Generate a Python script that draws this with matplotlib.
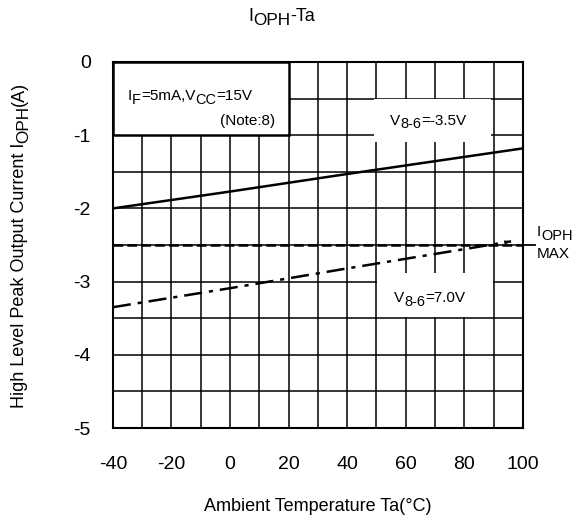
import matplotlib.pyplot as plt
from matplotlib.patches import Rectangle
from matplotlib.transforms import offset_copy

# readings from the datasheet curve
ta_35 = [-40, 0, 40, 100]
ioph_35 = [-2.0, -1.77, -1.53, -1.18]

ta_70 = [-40, 0, 40, 84, 96]
ioph_70 = [-3.35, -3.09, -2.82, -2.53, -2.45]

IOPH_MAX = -2.5

xticks = [-40, -20, 0, 20, 40, 60, 80, 100]
yticks = [0, -1, -2, -3, -4, -5]

plt.rcParams['font.family'] = ['Liberation Sans', 'DejaVu Sans']
plt.rcParams['axes.unicode_minus'] = False
plt.rcParams['lines.scale_dashes'] = False

SUB = 0.95


def rich(fig, x, y, parts, size, transform, ha='left', rotation=0):
    """draw text made of (string, is_subscript) pieces one after another"""
    renderer = fig.canvas.get_renderer()
    texts = []
    pos = 0
    for s, sub in parts:
        fs = size * SUB if sub else size
        dy = -size * 0.25 if sub else 0
        texts.append((s, fs, pos, dy))
        t = fig.text(0, 0, s, fontsize=fs)
        pos += t.get_window_extent(renderer).width * 72 / fig.dpi
        t.remove()
    shift = {'left': 0, 'center': -pos / 2, 'right': -pos}[ha]
    for s, fs, p, dy in texts:
        if rotation == 90:
            ox, oy = -dy, p + shift
        else:
            ox, oy = p + shift, dy
        tr = offset_copy(transform, fig=fig, x=ox, y=oy, units='points')
        fig.text(x, y, s, fontsize=fs, transform=tr, ha='left', va='center_baseline',
                 rotation=rotation, rotation_mode='anchor', zorder=5)


fig = plt.figure(figsize=(5.79, 5.21), dpi=100)
ax = fig.add_axes([0.195, 0.1785, 0.708, 0.7025])

ax.set_xlim(-40, 100)
ax.set_ylim(-5, 0)
ax.set_xticks(xticks)
ax.set_yticks(yticks)
ax.set_xticks(range(-40, 101, 10), minor=True)
ax.set_yticks([v / 2 for v in range(-10, 1)], minor=True)
ax.tick_params(which='both', length=0, labelsize=14)
ax.tick_params(axis='y', pad=16)
ax.tick_params(axis='x', pad=20)
ax.grid(which='both', color='black', lw=1.1)
ax.set_axisbelow(True)
for sp in ax.spines.values():
    sp.set_linewidth(1.5)

# curves
ax.plot(ta_35, ioph_35, color='black', lw=1.8, zorder=4)
l70, = ax.plot(ta_70, ioph_70, color='black', lw=1.8, zorder=4)
l70.set_dashes([13, 5, 3, 5])
ax.annotate('', xy=(ta_70[-1], ioph_70[-1]), xytext=(ta_70[-2], ioph_70[-2]),
            arrowprops=dict(arrowstyle='-|>,head_length=0.5,head_width=0.15',
                            color='black', lw=0, shrinkA=0, shrinkB=0), zorder=4)
lmax, = ax.plot([-40, 100], [IOPH_MAX, IOPH_MAX], color='black', lw=1.8, zorder=4)
lmax.set_dashes([7, 3])
ax.plot([100, 104], [IOPH_MAX, IOPH_MAX], color='black', lw=1.3, clip_on=False)
rich(fig, 104.8, -2.30, [('I', False), ('OPH', True)], 11, ax.transData)
rich(fig, 104.8, -2.60, [('MAX', False)], 11, ax.transData)

# label boxes
ax.add_patch(Rectangle((-40, -1), 60, 1, facecolor='white', edgecolor='black',
                       lw=1.8, zorder=3))
rich(fig, -34.9, -0.45, [('I', False), ('F', True), ('=5mA,V', False), ('CC', True),
                         ('=15V', False)], 11, ax.transData)
rich(fig, 15.3, -0.78, [('(Note:8)', False)], 11, ax.transData, ha='right')

ax.add_patch(Rectangle((49, -1.09), 40, 0.59, facecolor='white', edgecolor='none',
                       zorder=3))
rich(fig, 54.6, -0.78, [('V', False), ('8-6', True), ('=-3.5V', False)], 11, ax.transData)

ax.add_patch(Rectangle((50.3, -3.49), 39.4, 0.61, facecolor='white',
                       edgecolor='none', zorder=3))
rich(fig, 56, -3.20, [('V', False), ('8-6', True), ('=7.0V', False)], 11, ax.transData)

rich(fig, 0.487, 0.972, [('I', False), ('OPH', True), ('-Ta', False)], 13,
     fig.transFigure, ha='center')
fig.text(0.548, 0.027, 'Ambient Temperature Ta(°C)', fontsize=13, ha='center', va='center')
rich(fig, 0.03, 0.53, [('High Level Peak Output Current I', False), ('OPH', True),
                       ('(A)', False)], 13, fig.transFigure, ha='center', rotation=90)

fig.savefig('out.png', dpi=100)
